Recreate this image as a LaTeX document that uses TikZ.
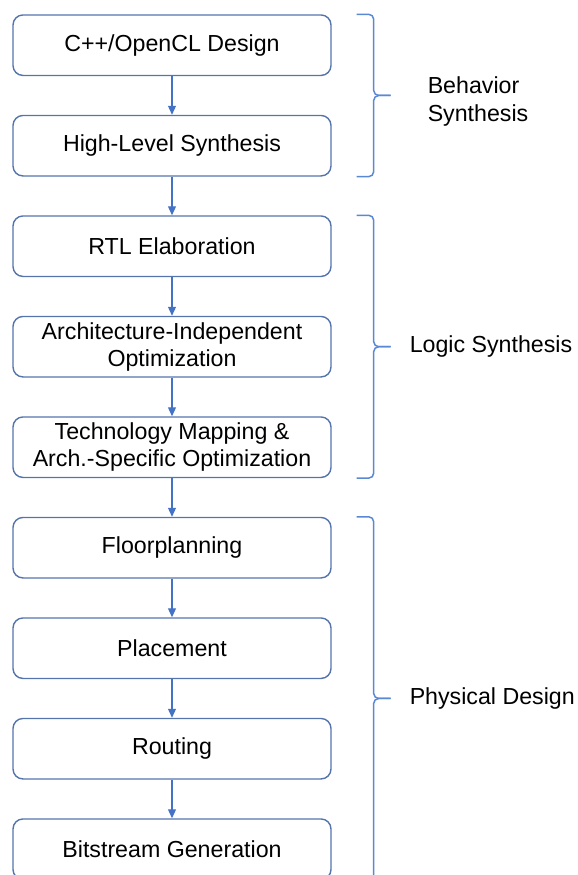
\documentclass[tikz,border=0pt]{standalone}
\usepackage{fontspec}
\setmainfont{Liberation Sans}
\usepackage{tikz}
\usetikzlibrary{positioning, arrows.meta, calc}

\definecolor{boxline}{HTML}{5574AC}
\definecolor{flowblue}{HTML}{4472C4}
\definecolor{bracketblue}{HTML}{5B88D4}

\begin{document}
\begin{tikzpicture}[
                >={Triangle[width=4pt,length=4.5pt]},
                node distance=19.3pt,
                font=\fontsize{11.6}{13.6}\selectfont,
                stage/.style={rectangle, draw=boxline, line width=0.7pt, rounded corners=5pt, minimum width=159pt, minimum height=30.25pt, inner sep=1pt, align=center},
                arrow/.style={->, draw=flowblue, line width=0.6pt},
                bracket/.style={draw=bracketblue, line width=0.75pt, rounded corners=2.5pt},
                phase/.style={anchor=west, align=left}
            ]

            \clip (0,0) rectangle (289pt,-437.5pt);

            % Nodes
            \node[stage] (design) at (86pt,-22.6pt) {C++/OpenCL Design};
            \node[stage, below=of design] (hls) {High-Level Synthesis};
            \node[stage, below=of hls] (rtl) {RTL Elaboration};
            \node[stage, below=of rtl] (indep) {Architecture-Independent\\Optimization};
            \node[stage, below=of indep] (techmap) {Technology Mapping \&\\Arch.-Specific Optimization};
            \node[stage, below=of techmap] (floor) {Floorplanning};
            \node[stage, below=of floor] (place) {Placement};
            \node[stage, below=of place] (route) {Routing};
            \node[stage, below=of route] (bits) {Bitstream Generation};

            % Flow
            \foreach \a/\b in {design/hls, hls/rtl, rtl/indep, indep/techmap, techmap/floor, floor/place, place/route, route/bits}
                \draw[arrow] (\a) -- (\b);

            % Brackets
            \foreach \a/\b/\g in {design/hls/beh, rtl/techmap/logic, floor/bits/phys} {
                \coordinate (\g-top) at ($(\a.north east)+(12.5pt,0)$);
                \coordinate (\g-bot) at ($(\b.south east)+(12.5pt,0)$);
                \coordinate (\g-mid) at ($(\g-top)!0.5!(\g-bot)$);
                \coordinate (\g-tip) at ($(\g-mid)+(17pt,0)$);
                \coordinate (\g-knee) at ($(\g-mid)+(8.5pt,0)$);
                \draw[bracket] (\g-top) -| (\g-knee) -- (\g-tip);
                \draw[bracket] (\g-bot) -| (\g-knee) -- (\g-tip);
            }

            \node[phase, right=15pt of beh-tip, yshift=-3pt] (beh-label) {Behavior\\Synthesis};
            \node[phase, right=6pt of logic-tip] (logic-label) {Logic Synthesis};
            \node[phase, right=6pt of phys-tip] (phys-label) {Physical Design};

        \end{tikzpicture}
\end{document}
